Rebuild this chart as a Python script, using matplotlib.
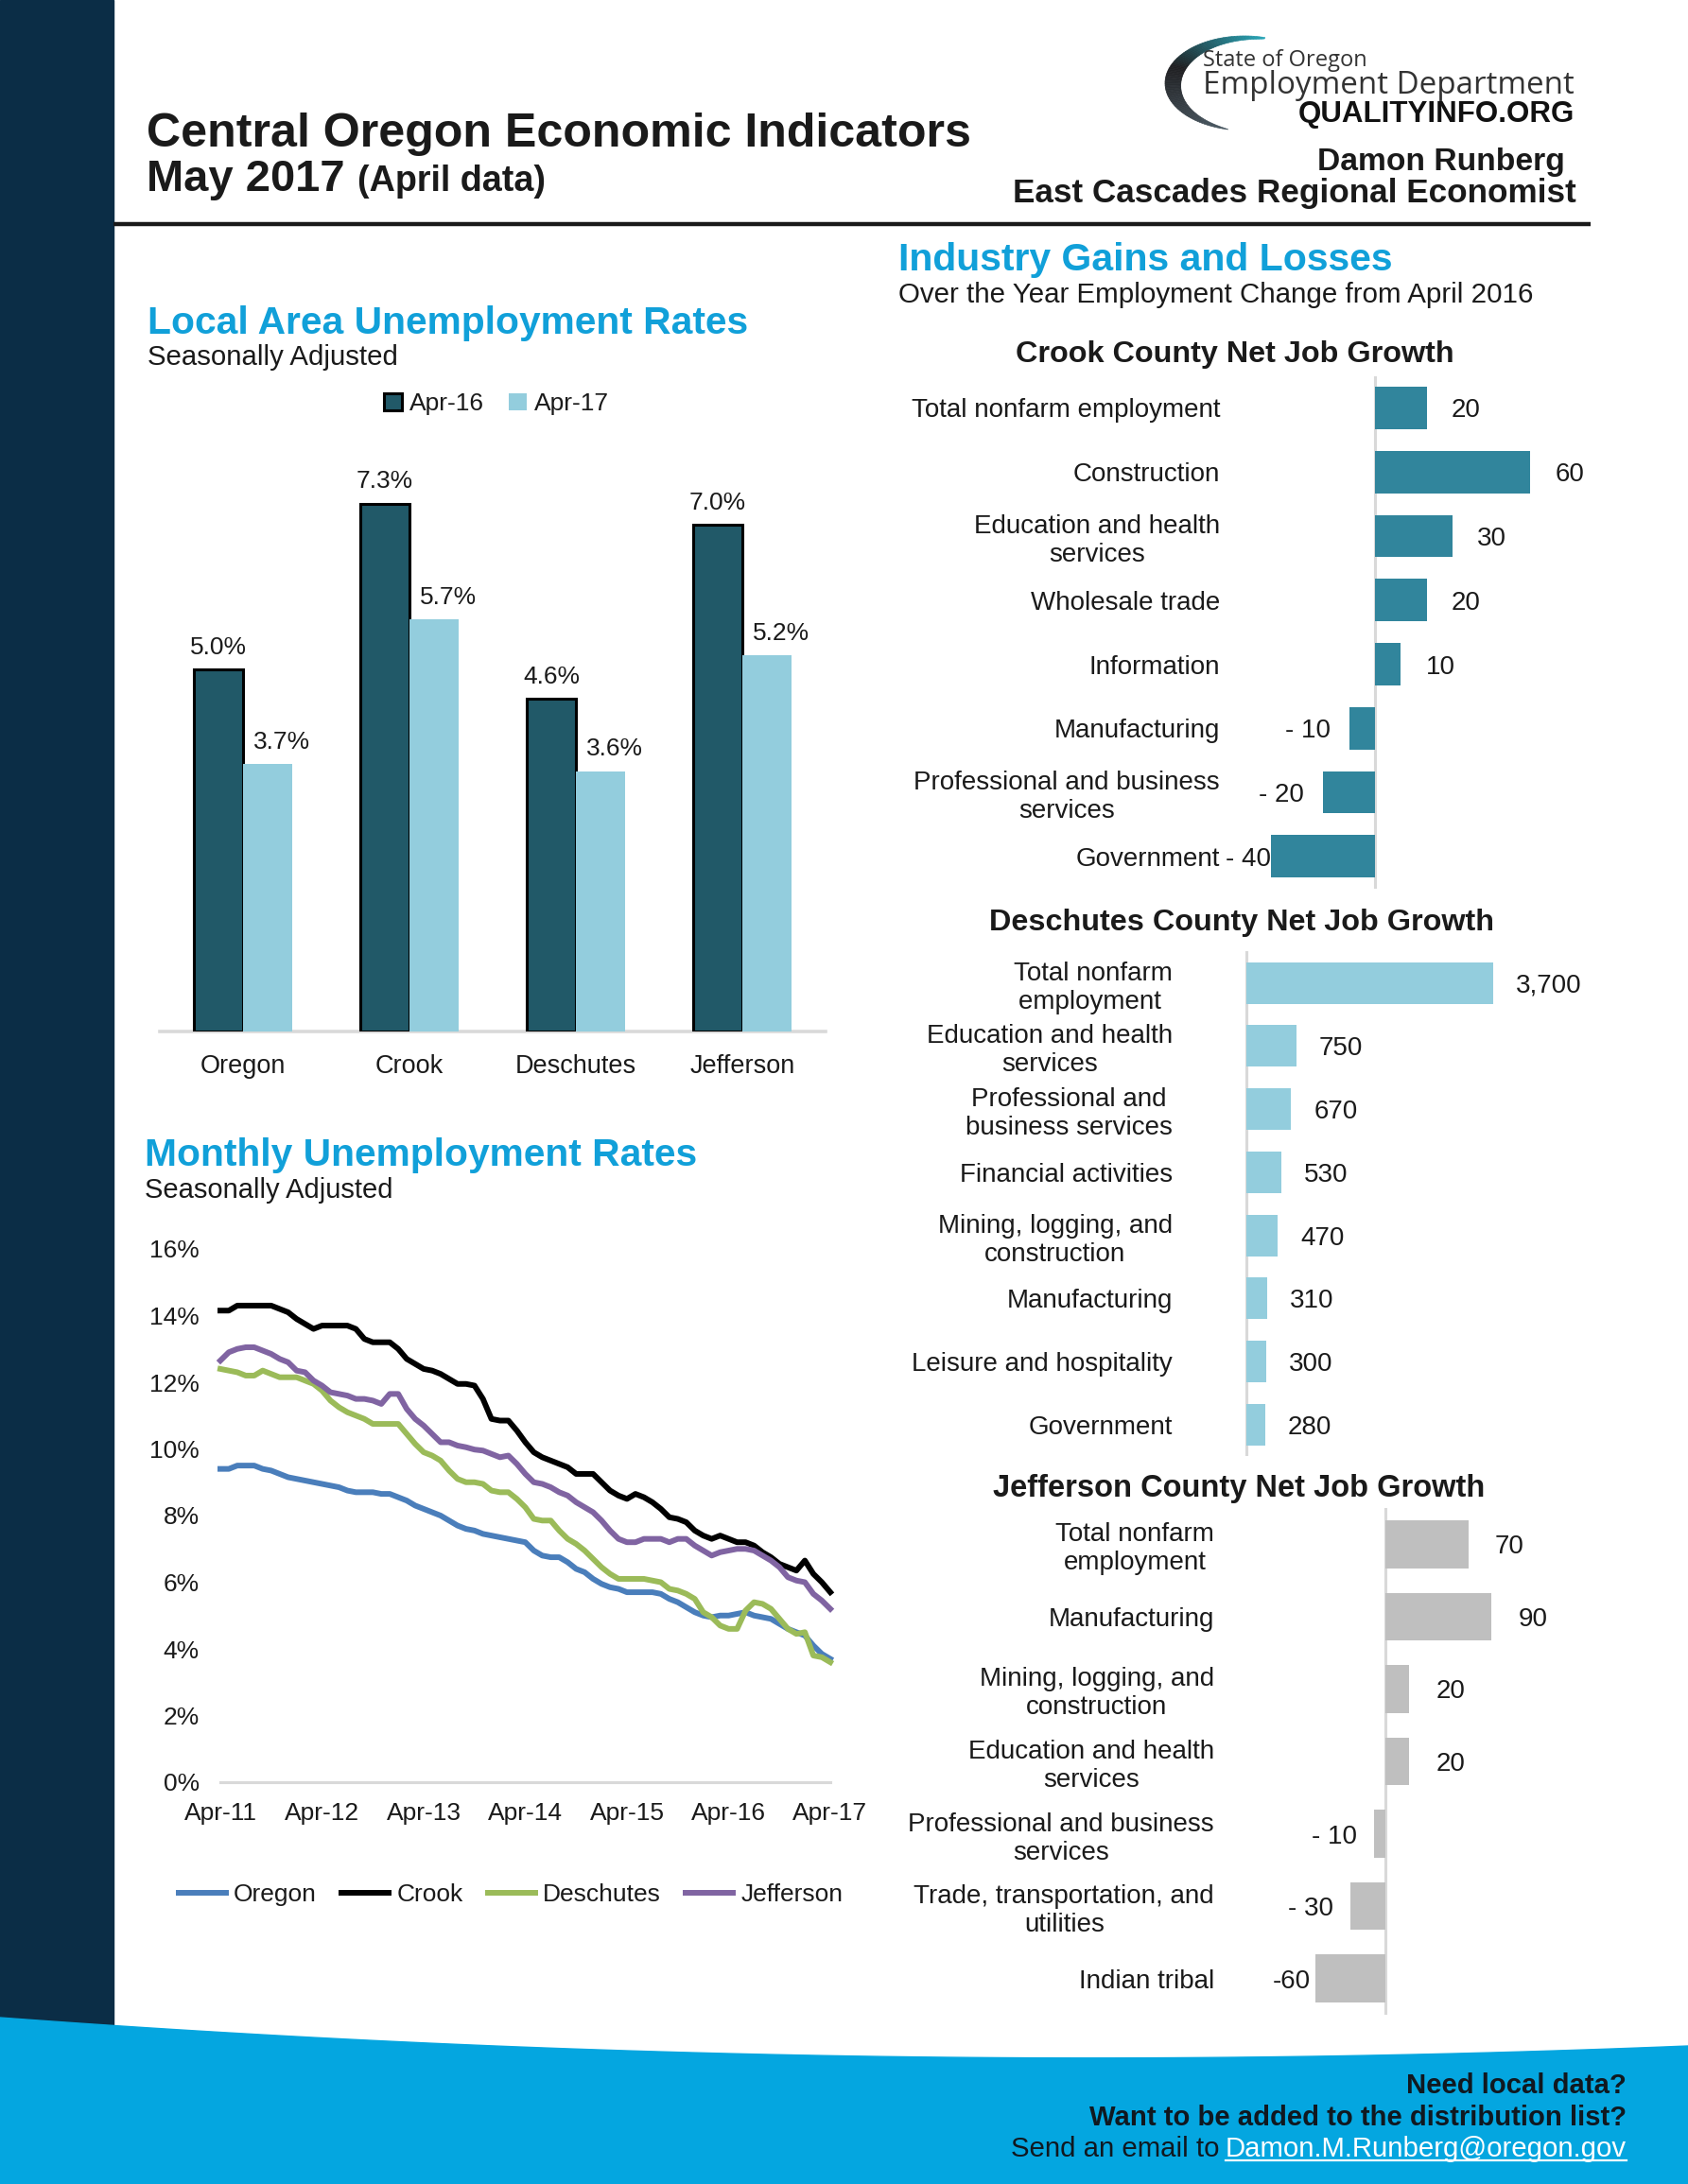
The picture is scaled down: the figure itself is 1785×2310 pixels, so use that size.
import matplotlib
matplotlib.use("Agg")
import matplotlib.pyplot as plt
import numpy as np
from matplotlib.patches import Rectangle, Polygon

plt.rcParams['font.family'] = ['Liberation Sans', 'DejaVu Sans']
TXT = '#1a1a1a'
plt.rcParams['text.color'] = TXT
plt.rcParams['xtick.color'] = TXT
plt.rcParams['ytick.color'] = TXT

W, H, DPI = 1785, 2310, 100
PT = DPI / 72.0

# ---------------- data ----------------
lau_areas = ["Oregon", "Crook", "Deschutes", "Jefferson"]
lau_series = ["Apr-16", "Apr-17"]
lau_apr16 = [5.0, 7.3, 4.6, 7.0]
lau_apr17 = [3.7, 5.7, 3.6, 5.2]

month_ticks = ["Apr-11", "Apr-12", "Apr-13", "Apr-14", "Apr-15", "Apr-16", "Apr-17"]
rate_names = ["Oregon", "Crook", "Deschutes", "Jefferson"]
oregon_rate = [
    9.4, 9.4, 9.5, 9.5, 9.5, 9.4, 9.35, 9.25, 9.15, 9.1, 9.05, 9.0,
    8.95, 8.9, 8.85, 8.75, 8.7, 8.7, 8.7, 8.65, 8.65, 8.55, 8.45, 8.3,
    8.2, 8.1, 8.0, 7.85, 7.7, 7.6, 7.55, 7.45, 7.4, 7.35, 7.3, 7.25,
    7.2, 6.95, 6.8, 6.75, 6.75, 6.6, 6.4, 6.3, 6.1, 5.95, 5.85, 5.8,
    5.7, 5.7, 5.7, 5.7, 5.65, 5.5, 5.4, 5.25, 5.1, 5.0, 4.95, 5.0,
    5.0, 5.05, 5.1, 5.0, 4.95, 4.9, 4.75, 4.6, 4.5, 4.4, 4.1, 3.85,
    3.7]
crook_rate = [
    14.15, 14.15, 14.3, 14.3, 14.3, 14.3, 14.3, 14.2, 14.1, 13.9, 13.75, 13.6,
    13.7, 13.7, 13.7, 13.7, 13.6, 13.3, 13.2, 13.2, 13.2, 13.0, 12.7, 12.55,
    12.4, 12.35, 12.25, 12.1, 11.95, 11.95, 11.9, 11.5, 10.9, 10.85, 10.85, 10.55,
    10.2, 9.9, 9.75, 9.65, 9.55, 9.45, 9.25, 9.25, 9.25, 9.0, 8.75, 8.6,
    8.5, 8.65, 8.55, 8.4, 8.2, 7.95, 7.9, 7.8, 7.55, 7.4, 7.3, 7.4,
    7.3, 7.2, 7.2, 7.1, 6.9, 6.75, 6.55, 6.45, 6.35, 6.65, 6.25, 6.0,
    5.7]
deschutes_rate = [
    12.4, 12.35, 12.3, 12.2, 12.2, 12.35, 12.25, 12.15, 12.15, 12.15, 12.05, 11.95,
    11.75, 11.45, 11.25, 11.1, 11.0, 10.9, 10.75, 10.75, 10.75, 10.75, 10.45, 10.15,
    9.9, 9.8, 9.65, 9.35, 9.1, 9.0, 9.0, 8.95, 8.75, 8.7, 8.7, 8.5,
    8.25, 7.9, 7.85, 7.85, 7.55, 7.3, 7.15, 6.95, 6.7, 6.45, 6.25, 6.1,
    6.1, 6.1, 6.1, 6.05, 6.0, 5.8, 5.75, 5.65, 5.5, 5.1, 4.95, 4.7,
    4.6, 4.6, 5.15, 5.4, 5.35, 5.2, 4.9, 4.6, 4.45, 4.5, 3.8, 3.75,
    3.6]
jefferson_rate = [
    12.65, 12.9, 13.0, 13.05, 13.05, 12.95, 12.85, 12.7, 12.6, 12.35, 12.3, 12.05,
    11.9, 11.7, 11.65, 11.6, 11.5, 11.5, 11.45, 11.35, 11.65, 11.65, 11.2, 10.9,
    10.7, 10.45, 10.2, 10.2, 10.1, 10.05, 9.98, 9.95, 9.85, 9.75, 9.8, 9.55,
    9.25, 9.0, 8.95, 8.85, 8.7, 8.6, 8.4, 8.25, 8.1, 7.85, 7.55, 7.3,
    7.2, 7.2, 7.3, 7.3, 7.3, 7.2, 7.3, 7.3, 7.1, 6.95, 6.8, 6.9,
    6.95, 7.0, 7.0, 6.95, 6.8, 6.65, 6.45, 6.15, 6.05, 6.0, 5.65, 5.45,
    5.2]

crook_industries = ["Total nonfarm employment", "Construction",
                    "Education and health\nservices", "Wholesale trade",
                    "Information", "Manufacturing",
                    "Professional and business\nservices", "Government"]
crook_change = [20, 60, 30, 20, 10, -10, -20, -40]

deschutes_industries = ["Total nonfarm\nemployment ", "Education and health\nservices",
                        "Professional and\nbusiness services", "Financial activities",
                        "Mining, logging, and\nconstruction", "Manufacturing",
                        "Leisure and hospitality", "Government"]
deschutes_change = [3700, 750, 670, 530, 470, 310, 300, 280]

jefferson_industries = ["Total nonfarm\nemployment", "Manufacturing",
                        "Mining, logging, and\nconstruction",
                        "Education and health\nservices",
                        "Professional and business\nservices",
                        "Trade, transportation, and\nutilities", "Indian tribal"]
jefferson_change = [70, 90, 20, 20, -10, -30, -60]
jefferson_labels = ["70", "90", "20", "20", "- 10", "- 30", "-60"]

# ---------------- figure ----------------
fig = plt.figure(figsize=(W / DPI, H / DPI), dpi=DPI)
fig.patch.set_facecolor('white')

bg = fig.add_axes([0, 0, 1, 1], zorder=0)
bg.set_xlim(0, W)
bg.set_ylim(H, 0)
bg.axis('off')


def px_axes(x0, y0, x1, y1):
    ax = fig.add_axes([x0 / W, 1 - y1 / H, (x1 - x0) / W, (y1 - y0) / H], zorder=2)
    ax.patch.set_alpha(0)
    return ax


fits = []


def txt(x, y, s, target=None, **kw):
    kw.setdefault('va', 'baseline')
    kw.setdefault('zorder', 5)
    t = bg.text(x, y, s, **kw)
    if target:
        fits.append((t, target))
    return t


# left dark band and footer
bg.add_patch(Rectangle((0, 0), 120, 2200, color='#0b2d46', zorder=1))
xs = np.linspace(0, W, 60)
top = 2134 + 0.0741 * xs - 3.21e-5 * xs ** 2
foot = np.vstack([np.column_stack([xs, top]), [[W, H], [0, H]]])
bg.add_patch(Polygon(foot, closed=True, color='#04a6e0', zorder=2))

# header rule
bg.plot([120, 1682], [237, 237], color='#1a1a1a', lw=3.2, zorder=3, solid_capstyle='butt')

# titles
BLUE = '#11a0d9'
txt(155, 155, "Central Oregon Economic Indicators", 871, fontsize=35, fontweight='bold')
txt(155, 202, "May 2017", 210, fontsize=33, fontweight='bold')
txt(378, 202, "(April data)", 199, fontsize=25, fontweight='bold')

# logo arc
cx, cy, rx, ry = 1316, 88, 84, 50
t0, t1 = np.radians(75), np.radians(258)
n = 90
ts = np.linspace(t0, t1, n + 1)
teal = np.array([0.16, 0.65, 0.72])
dark = np.array([0.12, 0.12, 0.13])
grey = np.array([0.30, 0.36, 0.40])


def arc_edge(t, w):
    return (cx + (rx - w) * np.cos(t), cy - (ry - w * 0.55) * np.sin(t))


for i in range(n):
    ta, tb = ts[i], ts[i + 1]
    wa = 16 * np.sin(np.pi * (ta - t0) / (t1 - t0)) ** 0.8 + 2.5 * (1 - (ta - t0) / (t1 - t0))
    wb = 16 * np.sin(np.pi * (tb - t0) / (t1 - t0)) ** 0.8 + 2.5 * (1 - (tb - t0) / (t1 - t0))
    f = i / n
    if f < 0.45:
        c = teal + (dark - teal) * (f / 0.45)
    else:
        c = dark + (grey - dark) * ((f - 0.45) / 0.55)
    bg.add_patch(Polygon([arc_edge(ta, 0), arc_edge(tb, 0), arc_edge(tb, wb), arc_edge(ta, wa)],
                         closed=True, facecolor=tuple(c), edgecolor=tuple(c), lw=0.5, zorder=3))

txt(1272, 70, "State of Oregon", 173, fontsize=18, family=['Open Sans', 'DejaVu Sans'], color='#333333')
txt(1272, 99, "Employment Department", 393, fontsize=24, family=['Open Sans', 'DejaVu Sans'], color='#333333')
txt(1665, 129, "QUALITYINFO.ORG", 292, fontsize=21, fontweight='bold', ha='right', color='#111111')
txt(1655, 180, "Damon Runberg", 262, fontsize=23.5, fontweight='bold', ha='right')
txt(1667, 214, "East Cascades Regional Economist", 594, fontsize=24.5, fontweight='bold', ha='right')

# section headings
txt(156, 353, "Local Area Unemployment Rates", 635, fontsize=29, fontweight='bold', color=BLUE)
txt(156, 386, "Seasonally Adjusted", 264, fontsize=20)
txt(153, 1233, "Monthly Unemployment Rates", 583, fontsize=29, fontweight='bold', color=BLUE)
txt(153, 1267, "Seasonally Adjusted", 262, fontsize=20)
txt(950, 286, "Industry Gains and Losses", 523, fontsize=29, fontweight='bold', color=BLUE)
txt(950, 320, "Over the Year Employment Change from April 2016", 670, fontsize=21)
txt(1306, 383, "Crook County Net Job Growth", 464, fontsize=23, fontweight='bold', ha='center')
txt(1313, 984, "Deschutes County Net Job Growth", 534, fontsize=23, fontweight='bold', ha='center')
txt(1310, 1583, "Jefferson County Net Job Growth", 520, fontsize=23, fontweight='bold', ha='center')

# footer text
txt(1720, 2214, "Need local data?", 232, fontsize=20, fontweight='bold', ha='right', color='#101820')
txt(1720, 2248, "Want to be added to the distribution list?", 567, fontsize=20, fontweight='bold',
    ha='right', color='#101820')
email = txt(1720, 2281, "Damon.M.Runberg@oregon.gov", 423, fontsize=20, ha='right', color='white')
send = txt(1291, 2281, "Send an email to", 220, fontsize=20, ha='right', color='#101820')

# ---------------- LAU bar chart ----------------
ax1 = px_axes(169, 479, 873, 1091)
xpos = np.arange(len(lau_areas))
bw = 0.295
b16 = ax1.bar(xpos - bw / 2, lau_apr16, bw, color='#215968', edgecolor='black', linewidth=2.2,
              label=lau_series[0], zorder=3)
b17 = ax1.bar(xpos + bw / 2, lau_apr17, bw, color='#93cddd', label=lau_series[1], zorder=3)
ax1.set_xlim(-0.5, 3.5)
ax1.set_ylim(0, 8)
for xx, v in zip(xpos - bw / 2, lau_apr16):
    ax1.annotate(f"{v:.1f}%", (xx, v), xytext=(0, 8), textcoords='offset points',
                 ha='center', va='bottom', fontsize=19, zorder=6)
for xx, v in zip(xpos + bw / 2, lau_apr17):
    ax1.annotate(f"{v:.1f}%", (xx, v), xytext=(11, 8), textcoords='offset points',
                 ha='center', va='bottom', fontsize=19, zorder=6)
ax1.set_xticks(xpos, lau_areas)
ax1.set_yticks([])
ax1.tick_params(axis='x', length=0, pad=17.5, labelsize=19.5)
for s in ['top', 'left', 'right']:
    ax1.spines[s].set_visible(False)
ax1.spines['bottom'].set_color('#d9d9d9')
ax1.spines['bottom'].set_linewidth(2.6)
ax1.legend(loc='center', bbox_to_anchor=(525 / W, 1 - 427 / H), bbox_transform=fig.transFigure,
           ncol=2, frameon=False, fontsize=19, handlelength=0.7, handleheight=0.7,
           handletextpad=0.3, columnspacing=1.0)

# ---------------- monthly line chart ----------------
ax2 = px_axes(233, 1321, 878, 1885)
months = np.arange(len(oregon_rate))
line_colors = ['#4a7ebb', '#000000', '#9bbb59', '#8064a2']
handles = []
for vals, col, name in zip([oregon_rate, crook_rate, deschutes_rate, jefferson_rate],
                           line_colors, rate_names):
    h, = ax2.plot(months, vals, color=col, lw=4.3, label=name, clip_on=False,
                  solid_joinstyle='round', zorder=3)
    handles.append(h)
ax2.set_xlim(0, len(oregon_rate) - 1)
ax2.set_ylim(0, 16)
ax2.set_xticks(np.arange(0, len(oregon_rate), 12), month_ticks)
yt = np.arange(0, 17, 2)
ax2.set_yticks(yt, [f"{v}%" for v in yt])
ax2.tick_params(axis='x', length=0, pad=15, labelsize=19)
ax2.tick_params(axis='y', length=0, pad=16, labelsize=19)
for s in ['top', 'left', 'right']:
    ax2.spines[s].set_visible(False)
ax2.spines['bottom'].set_color('#d9d9d9')
ax2.spines['bottom'].set_linewidth(2.2)
fig.legend(handles=handles, loc='center', bbox_to_anchor=(540 / W, 1 - 2004 / H),
           ncol=4, frameon=False, fontsize=19, handlelength=1.9, handletextpad=0.3,
           columnspacing=1.0)

# ---------------- industry bar charts ----------------
neg_labels = []


def hbar(box, cats, vals, labels, color, zero_px, scale, gap_pos, gap_neg, label_right):
    x0, y0, x1, y1 = box
    ax = px_axes(x0, y0, x1, y1)
    y = np.arange(len(cats))
    ax.barh(y, vals, height=0.66, color=color, zorder=3)
    ax.set_xlim(-(zero_px - x0) / scale, (x1 - zero_px) / scale)
    ax.set_ylim(len(cats) - 0.5, -0.5)
    ax.set_yticks(y, cats)
    ax.set_xticks([])
    ax.tick_params(axis='y', length=0, pad=(x0 - label_right) / PT, labelsize=20)
    for t in ax.get_yticklabels():
        t.set_multialignment('center')
    for s in ax.spines.values():
        s.set_visible(False)
    ax.axvline(0, color='#d9d9d9', lw=2.2, zorder=2)
    for yy, v, lab in zip(y, vals, labels):
        if v >= 0:
            ax.annotate(lab, (v, yy), xytext=(gap_pos / PT, 0), textcoords='offset points',
                        ha='left', va='center_baseline', fontsize=20)
        else:
            a = ax.annotate(lab, (v, yy), xytext=(-gap_neg / PT, 0), textcoords='offset points',
                            ha='right', va='center_baseline', fontsize=20)
            neg_labels.append((ax, a, yy))
    return ax


def acct(v):
    return f"- {abs(v):,}" if v < 0 else f"{v:,}"


hbar((1296, 397.6, 1660, 939.7), crook_industries, crook_change,
     [acct(v) for v in crook_change], '#31859c', 1454, 2.74, 26, 20, 1290)
hbar((1250, 1006.4, 1680, 1540.0), deschutes_industries, deschutes_change,
     [acct(v) for v in deschutes_change], '#93cddd', 1318, 0.07046, 24, 20, 1240)
hbar((1346, 1595.0, 1680, 2131.0), jefferson_industries, jefferson_change,
     jefferson_labels, '#bfbfbf', 1465.4, 1.245, 28, 18, 1284)

# ---------------- fit header text widths ----------------
fig.canvas.draw()
r = fig.canvas.get_renderer()
for t, w in fits:
    bb = t.get_window_extent(r)
    if bb.width > 0:
        t.set_fontsize(t.get_fontsize() * w / bb.width)
fig.canvas.draw()
r = fig.canvas.get_renderer()

# clamp negative labels inside plot area (like the source charts)
for ax, a, yy in neg_labels:
    bb = a.get_window_extent(r)
    abb = ax.get_window_extent(r)
    if bb.x0 < abb.x0 - 1:
        a.xy = (ax.get_xlim()[0], yy)
        a.set_ha('left')
        a.set_position((0, 0))

# email underline and 'Send an email to' placement
inv = bg.transData.inverted()
eb = email.get_window_extent(r)
(ex0, ey0), (ex1, ey1) = inv.transform([[eb.x0, eb.y0], [eb.x1, eb.y1]])
send.set_x(ex0 - 6)
bg.plot([ex0, ex1], [2285, 2285], color='white', lw=1.6, zorder=6)

fig.savefig("out.png", dpi=DPI, facecolor='white')
